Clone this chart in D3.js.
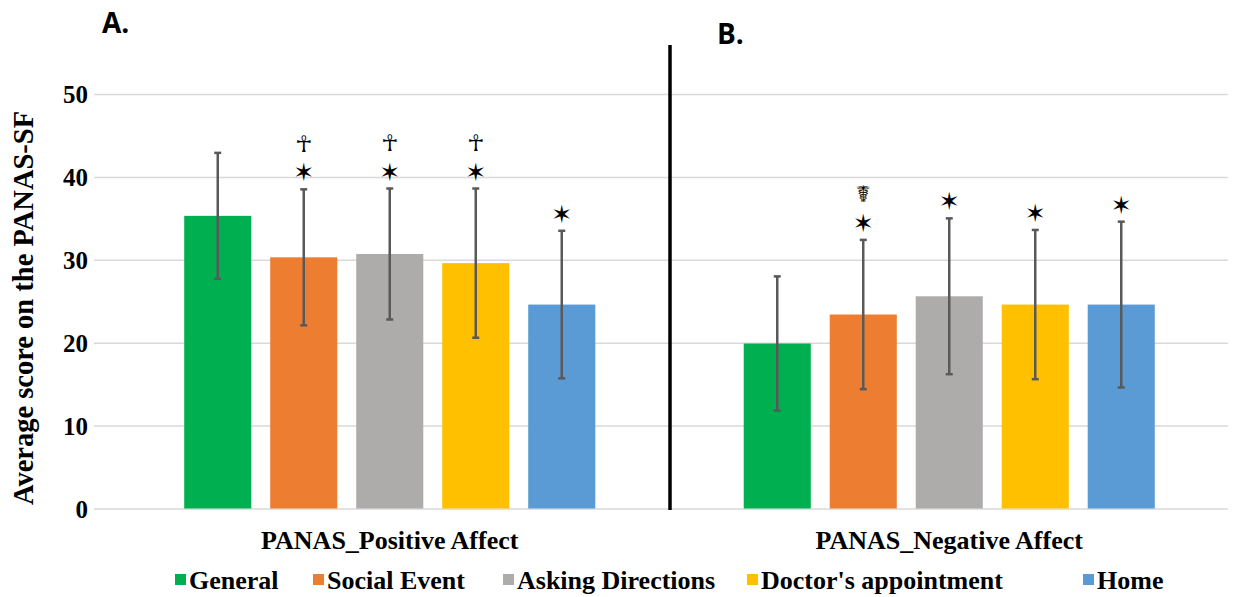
<!DOCTYPE html>
<html>
<head>
<meta charset="utf-8">
<script src="https://cdn.jsdelivr.net/npm/d3@7"></script>
<style>
  body { margin: 0; background: #fff; }
  svg { display: block; }
  .serif { font-family: "Liberation Serif", "Times New Roman", serif; font-weight: bold; fill: #000; }
  .panel { font-family: "Open Sans", "Liberation Sans", sans-serif; font-weight: bold; font-size: 28px; fill: #000; }
  .mark { font-family: "DejaVu Sans", sans-serif; fill: #000; }
</style>
</head>
<body>
<div id="chart"></div>
<script>
// data
var groups = ["PANAS_Positive Affect", "PANAS_Negative Affect"];
var conditions = ["General", "Social Event", "Asking Directions", "Doctor's appointment", "Home"];
var colors = ["#00B050", "#ED7D31", "#AEABAB", "#FFC000", "#5B9BD5"];
var positiveMeans = [35.3, 30.3, 30.7, 29.6, 24.6];
var positiveSD = [7.6, 8.2, 7.9, 9.0, 8.9];
var negativeMeans = [19.9, 23.4, 25.6, 24.6, 24.6];
var negativeSD = [8.1, 9.0, 9.4, 9.0, 10.0];
var positiveStars = [false, true, true, true, true];
var negativeStars = [false, true, true, true, true];
var positiveSymbols = ["", "\u2625", "\u2625", "\u2625", ""];
var negativeSymbols = ["", "\u2624", "", "", ""];
var yTicks = [0, 10, 20, 30, 40, 50];
var panelLabels = ["A.", "B."];

var width = 1233, height = 597;
var gridLeft = 94, gridRight = 1228;
var legendX = [175, 313, 503, 747, 1083];

var svg = d3.select("#chart").append("svg")
    .attr("width", width)
    .attr("height", height);

var y = d3.scaleLinear().domain([0, 50]).range([508.5, 94]);

var x0 = d3.scaleBand().domain(groups).range([110, 1229]);
var half = x0.bandwidth() / 2;
var x1 = d3.scaleBand().domain(conditions)
    .range([half - 215, half + 215])
    .paddingInner(0.22)
    .paddingOuter(0.11);

// gridlines
var grid = svg.append("g")
    .attr("transform", "translate(" + gridLeft + ",0)")
    .call(d3.axisLeft(y).tickValues(yTicks).tickSize(-(gridRight - gridLeft)).tickFormat(""));
grid.select(".domain").remove();
grid.selectAll("line").attr("stroke", "#D9D9D9").attr("stroke-width", 1.5);

// y tick labels
var yAxis = svg.append("g")
    .attr("transform", "translate(88,0)")
    .call(d3.axisLeft(y).tickValues(yTicks).tickSize(0).tickPadding(0));
yAxis.select(".domain").remove();
yAxis.selectAll("text")
    .attr("class", "serif")
    .style("font-size", "25px")
    .attr("dy", "0.35em");

// y title
svg.append("text")
    .attr("class", "serif")
    .attr("transform", "translate(33,308) rotate(-90)")
    .attr("text-anchor", "middle")
    .style("font-size", "28.5px")
    .text("Average score on the PANAS-SF");

var rows = groups.map(function(g, gi) {
  var means = gi === 0 ? positiveMeans : negativeMeans;
  var sds = gi === 0 ? positiveSD : negativeSD;
  var stars = gi === 0 ? positiveStars : negativeStars;
  var syms = gi === 0 ? positiveSymbols : negativeSymbols;
  return conditions.map(function(c, i) {
    return { group: g, cond: c, color: colors[i], mean: means[i], sd: sds[i], star: stars[i], sym: syms[i] };
  });
});

var groupG = svg.selectAll(".group")
    .data(rows)
    .enter().append("g")
    .attr("class", "group")
    .attr("transform", function(d, i) { return "translate(" + x0(groups[i]) + ",0)"; });

// bars
groupG.selectAll("rect")
    .data(function(d) { return d; })
    .enter().append("rect")
    .attr("x", function(d) { return x1(d.cond); })
    .attr("width", x1.bandwidth())
    .attr("y", function(d) { return y(d.mean); })
    .attr("height", function(d) { return y(0) - y(d.mean); })
    .attr("fill", function(d) { return d.color; });

// error bars
var err = groupG.selectAll(".err")
    .data(function(d) { return d; })
    .enter().append("g")
    .attr("class", "err")
    .attr("stroke", "#595959")
    .attr("stroke-width", 2.5);
var cx = function(d) { return x1(d.cond) + x1.bandwidth() / 2; };
err.append("line")
    .attr("x1", cx).attr("x2", cx)
    .attr("y1", function(d) { return y(d.mean + d.sd); })
    .attr("y2", function(d) { return y(d.mean - d.sd); });
err.append("line")
    .attr("x1", function(d) { return cx(d) - 3.5; })
    .attr("x2", function(d) { return cx(d) + 3.5; })
    .attr("y1", function(d) { return y(d.mean + d.sd); })
    .attr("y2", function(d) { return y(d.mean + d.sd); });
err.append("line")
    .attr("x1", function(d) { return cx(d) - 3.5; })
    .attr("x2", function(d) { return cx(d) + 3.5; })
    .attr("y1", function(d) { return y(d.mean - d.sd); })
    .attr("y2", function(d) { return y(d.mean - d.sd); });

// significance marks
groupG.selectAll(".star")
    .data(function(d) { return d.filter(function(e) { return e.star; }); })
    .enter().append("text")
    .attr("class", "mark star")
    .attr("x", cx)
    .attr("y", function(d) { return y(d.mean + d.sd) - 17; })
    .attr("dy", "0.36em")
    .attr("text-anchor", "middle")
    .style("font-size", "25px")
    .text("\u2736");
groupG.selectAll(".sym")
    .data(function(d) { return d.filter(function(e) { return e.sym; }); })
    .enter().append("text")
    .attr("class", "mark sym")
    .attr("x", cx)
    .attr("y", function(d) { return y(d.mean + d.sd) - 46; })
    .attr("dy", "0.36em")
    .attr("text-anchor", "middle")
    .style("font-size", "23px")
    .text(function(d) { return d.sym; });

// category labels
svg.selectAll(".cat")
    .data(groups)
    .enter().append("text")
    .attr("class", "serif cat")
    .attr("x", function(d) { return x0(d) + half; })
    .attr("y", 549)
    .attr("text-anchor", "middle")
    .style("font-size", "26px")
    .text(function(d) { return d; });

// divider between panels
svg.append("line")
    .attr("x1", 670).attr("x2", 670)
    .attr("y1", 45).attr("y2", 510)
    .attr("stroke", "#000")
    .attr("stroke-width", 3.5);

// panel letters
svg.append("text").attr("class", "panel").attr("x", 102).attr("y", 33).text(panelLabels[0]);
svg.append("text").attr("class", "panel").attr("x", 717).attr("y", 44).text(panelLabels[1]);

// legend
var legend = svg.append("g").attr("transform", "translate(0,580)");
conditions.forEach(function(c, i) {
  var item = legend.append("g").attr("transform", "translate(" + legendX[i] + ",0)");
  item.append("rect")
      .attr("x", 0).attr("y", -6)
      .attr("width", 11).attr("height", 11)
      .attr("fill", colors[i]);
  item.append("text")
      .attr("class", "serif")
      .attr("x", 14)
      .attr("y", 9)
      .style("font-size", "26px")
      .text(c);
});
</script>
</body>
</html>
